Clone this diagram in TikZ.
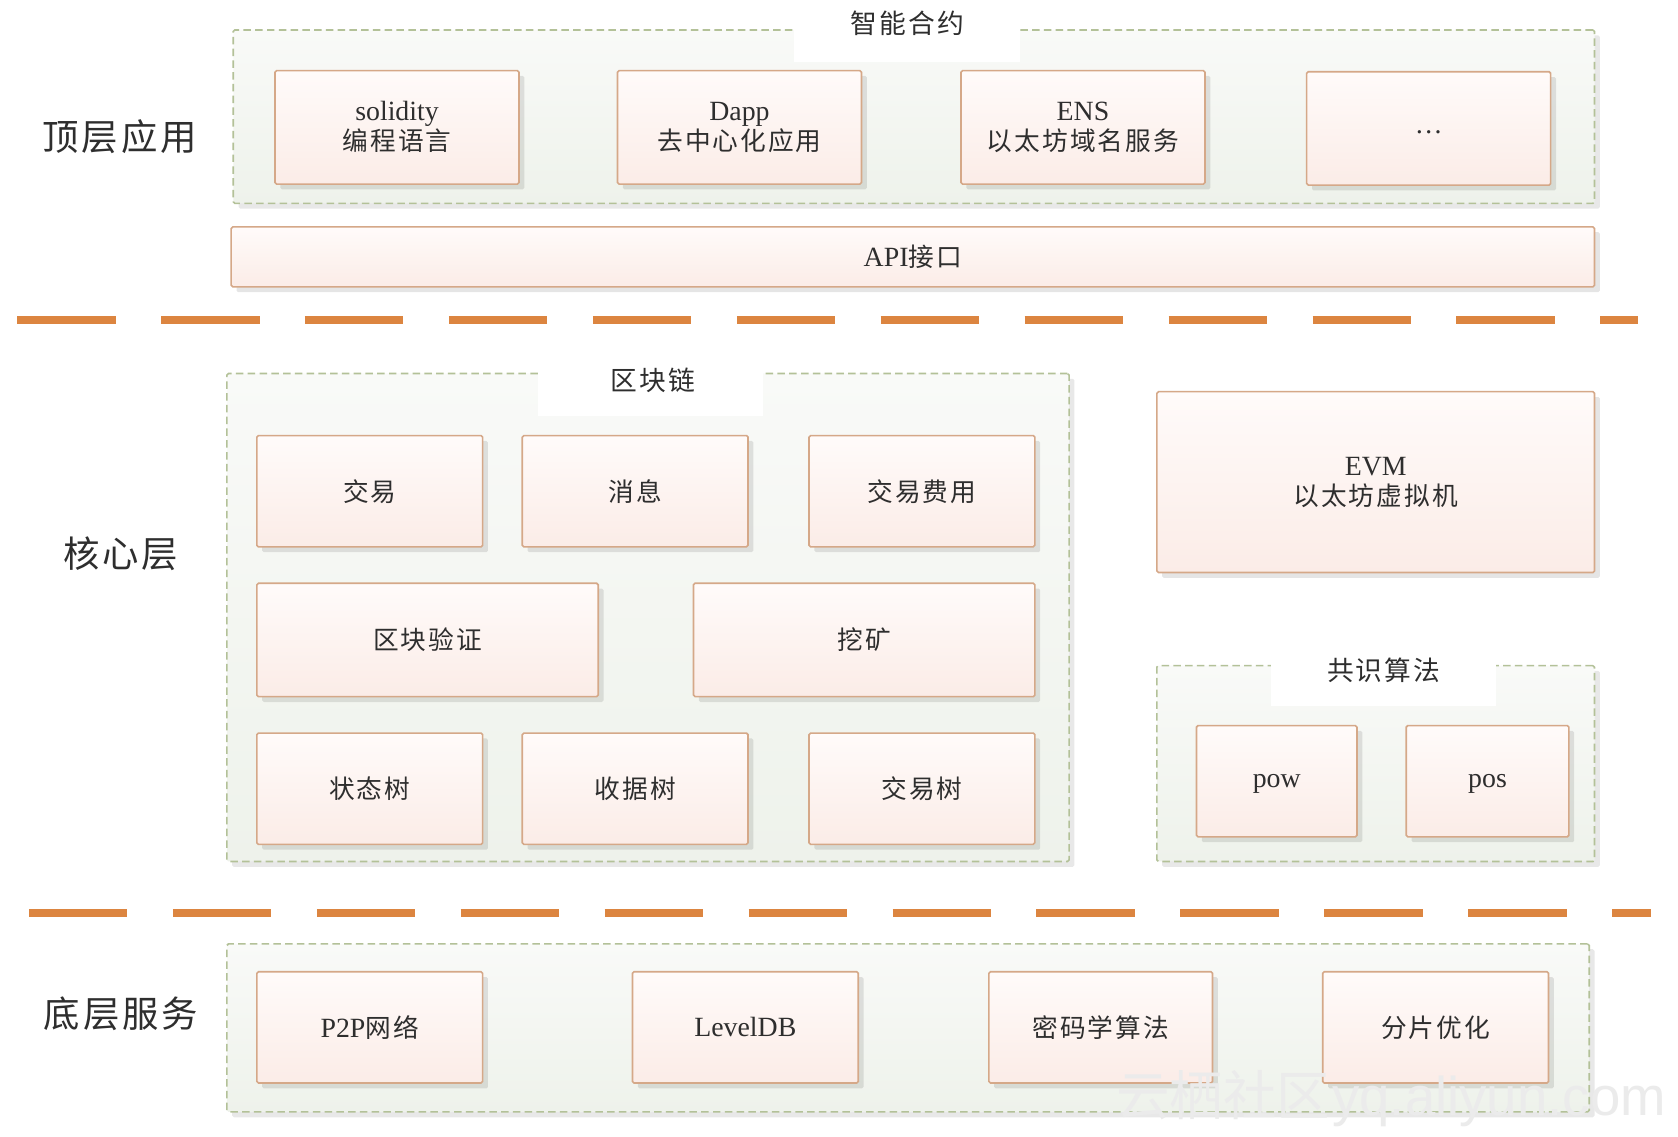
\documentclass[tikz,border=0pt]{standalone}
\usepackage{fontspec}
\setmainfont{Liberation Serif}
\newfontfamily\cjk[LetterSpace=8]{Noto Sans CJK SC}
\newfontfamily\cjkwm{Noto Sans CJK SC}
\usetikzlibrary{shadows}
\definecolor{boxline}{HTML}{D5A888}
\definecolor{boxtop}{HTML}{FFFBFA}
\definecolor{boxbot}{HTML}{FBECE7}
\definecolor{grpline}{HTML}{B3C198}
\definecolor{grptop}{HTML}{F9FAF8}
\definecolor{grpbot}{HTML}{EEF2EB}
\definecolor{txt}{HTML}{2E2E2E}
\definecolor{sep}{HTML}{DC8540}
\newcommand\zh[1]{{\cjk\fontsize{24}{28}\selectfont #1}}
\tikzset{
  box/.style={draw=boxline, line width=1.5pt, top color=boxtop, bottom color=boxbot,
    rounded corners=1.5pt, inner sep=0pt, text=txt, align=center,
    font=\fontsize{26}{28}\selectfont,
    drop shadow={shadow xshift=5pt, shadow yshift=-5pt, fill=black, opacity=0.1}},
  grp/.style={draw=grpline, line width=1.5pt, dash pattern=on 7pt off 4pt,
    top color=grptop, bottom color=grpbot, rounded corners=1.5pt, inner sep=0pt,
    drop shadow={shadow xshift=5pt, shadow yshift=-5pt, fill=black, opacity=0.09}},
  ttlbg/.style={fill=white, draw=none, inner sep=0pt},
  ttl/.style={text=txt, inner sep=0pt, font=\cjk\fontsize{25}{28}\selectfont},
  lbl/.style={text=txt, inner sep=0pt, font=\cjk\fontsize{34}{36}\selectfont},
  sepline/.style={draw=sep, line width=8pt, dash pattern=on 92pt off 42.5pt},
  lowtext/.style={text depth=0pt},
}
\newcommand\mybox[7][]{\node[box, minimum width=#5pt, minimum height=#6pt, #1] (#2) at (#3,#4) {#7};}
\newcommand\mygrp[5]{\node[grp, minimum width=#4pt, minimum height=#5pt] (#1) at (#2,#3) {};}
\begin{document}
\begin{tikzpicture}[x=1pt, y=-1pt]
\useasboundingbox[fill=white] (0,0) rectangle (1568,1062);

% ---------- top layer ----------
\node[lbl] (lbltop) at (112,128) {顶层应用};
\mygrp{gtop}{854}{109}{1272}{162}
\node[ttlbg, minimum width=211pt, minimum height=58pt] (gtopbg) at (847.5,29) {};
\node[ttl] (gtopt) at (848,22) {智能合约};
\mybox{sol}{371}{119}{228}{106}{solidity\\\zh{编程语言}}
\mybox{dapp}{691}{119}{228}{106}{Dapp\\\zh{去中心化应用}}
\mybox{ens}{1012}{119}{228}{106}{ENS\\\zh{以太坊域名服务}}
\mybox[lowtext]{more}{1335}{120}{228}{106}{\raisebox{-5pt}{\ldots}}
\mybox{api}{853}{240}{1274}{56}{API\zh{接口}}

% ---------- separator 1 ----------
\coordinate (s1a) at (16,299);
\coordinate (s1b) at (1531,299);
\draw[sepline] (s1a) -- (s1b);

% ---------- core layer ----------
\node[lbl] (lblcore) at (113,517) {核心层};
\mygrp{gcore}{605.5}{577}{787}{456}
\node[ttlbg, minimum width=210pt, minimum height=50pt] (gcorebg) at (608,364) {};
\node[ttl] (gcoret) at (610,355) {区块链};
\mybox{tx}{345.5}{459}{211}{104}{\zh{交易}}
\mybox{msg}{593.5}{459}{211}{104}{\zh{消息}}
\mybox{fee}{861.5}{459}{211}{104}{\zh{交易费用}}
\mybox{verify}{399.5}{598}{319}{106}{\zh{区块验证}}
\mybox{mine}{807.5}{598}{319}{106}{\zh{挖矿}}
\mybox{state}{345.5}{737}{211}{104}{\zh{状态树}}
\mybox{receipt}{593.5}{737}{211}{104}{\zh{收据树}}
\mybox{txtree}{861.5}{737}{211}{104}{\zh{交易树}}

\mybox{evm}{1285.5}{450.5}{409}{169}{EVM\\\zh{以太坊虚拟机}}

\mygrp{gcons}{1285.5}{713.5}{409}{183}
\node[ttlbg, minimum width=210pt, minimum height=52pt] (gconsbg) at (1293,634) {};
\node[ttl] (gconst) at (1293,626) {共识算法};
\mybox[lowtext]{pow}{1193}{730}{150}{104}{pow}
\mybox[lowtext]{pos}{1390}{730}{152}{104}{pos}

% ---------- separator 2 ----------
\coordinate (s2a) at (27,853);
\coordinate (s2b) at (1543,853);
\draw[sepline] (s2a) -- (s2b);

% ---------- bottom layer ----------
\node[lbl] (lblbot) at (113,947) {底层服务};
\mygrp{gbot}{848.5}{960.5}{1273}{157}
\mybox{p2p}{345.5}{960}{211}{104}{P2P\zh{网络}}
\mybox{ldb}{696.5}{960}{211}{104}{LevelDB}
\mybox{crypto}{1028.5}{960}{209}{104}{\zh{密码学算法}}
\mybox{shard}{1341.5}{960}{211}{104}{\zh{分片优化}}

% ---------- watermark ----------
\node[inner sep=0pt, text=black!8, anchor=west] (wm) at (1043,1027)
  {{\cjkwm\fontsize{50}{52}\selectfont 云栖社区}\,{\fontspec{Liberation Sans}\fontsize{51}{52}\selectfont yq.aliyun.com}};
\end{tikzpicture}
\end{document}
